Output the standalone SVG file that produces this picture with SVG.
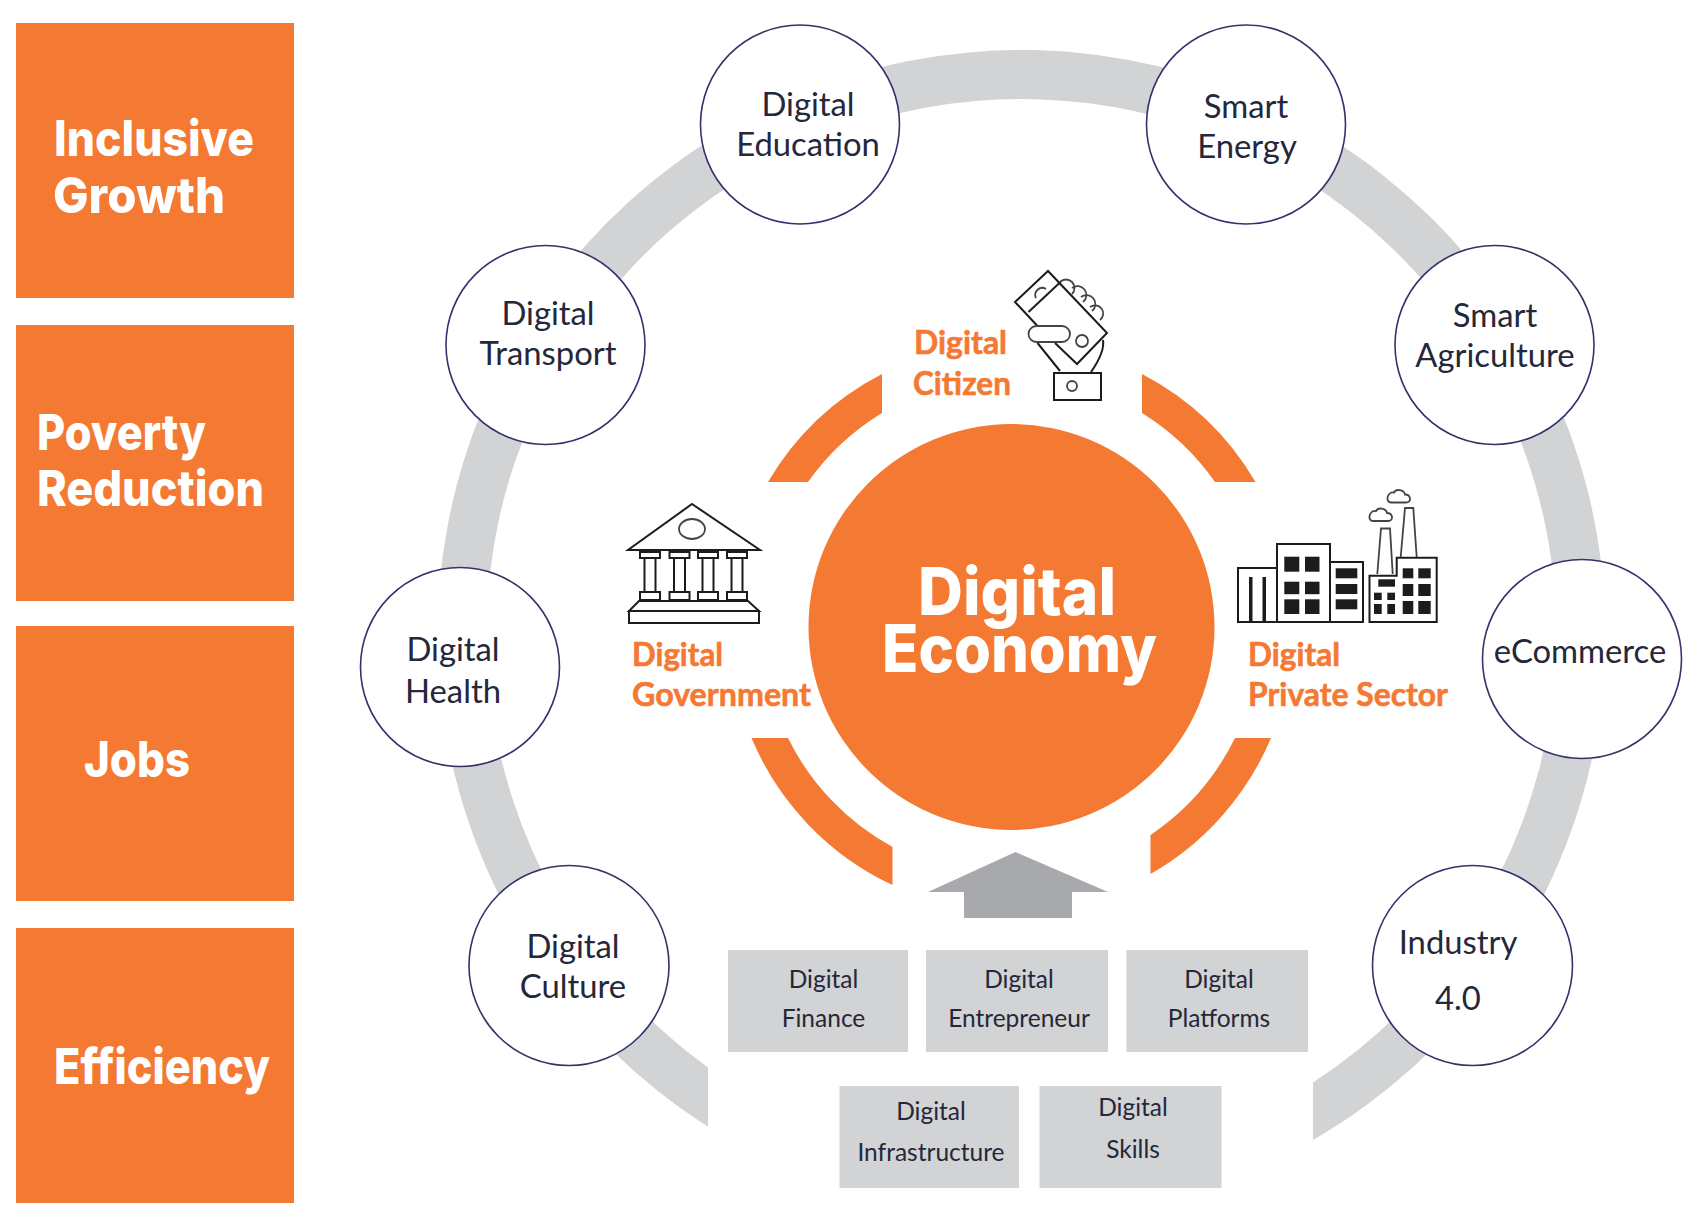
<svg xmlns="http://www.w3.org/2000/svg" width="1700" height="1214" viewBox="0 0 1700 1214">
<style>
.o{fill:#f47932}
.n{fill:#fff;stroke:#33326a;stroke-width:1.6}
.b{fill:#d1d3d4}
text{font-family:"Lato","Liberation Sans",sans-serif;text-anchor:middle}
.t{font-size:32.800px;fill:#25273a}
.s{font-size:24.500px;fill:#25273a}
.h{font-family:"Inter","Lato",sans-serif;font-size:50px;font-weight:800;fill:#fff;text-anchor:start}
.l{font-size:33px;font-weight:700;fill:#f47932;stroke:#f47932;stroke-width:.6;text-anchor:start}
.c{font-family:"Inter","Lato",sans-serif;font-size:66px;font-weight:800;fill:#fff}
.i{fill:none;stroke:#1c1c1c;stroke-width:2}
.k{fill:none;stroke:#444;stroke-width:1.8}
.w{fill:#1c1c1c}
</style>
<rect width="1700" height="1214" fill="#fff"/>
<g id="connectors">
<path id="outer-ring" fill="#d1d3d4" d="M708 1126.7A584 584 0 1 1 1313 1140L1313 1082.6A535 535 0 1 0 708 1067.5Z"/>
<path id="up-arrow" fill="#a7a9ac" d="M1015.5 852L1108 892L1072 892L1072 918L964 918L964 892L928 892Z"/>
</g>
<g id="outcome-inclusive-growth"><rect class="o" x="16" y="23" width="278" height="275"/><text class="h" x="54" y="156" textLength="200" lengthAdjust="spacingAndGlyphs">Inclusive</text><text class="h" x="53" y="213" textLength="172" lengthAdjust="spacingAndGlyphs">Growth</text></g>
<g id="outcome-poverty-reduction"><rect class="o" x="16" y="325" width="278" height="276"/><text class="h" x="37" y="450" textLength="169" lengthAdjust="spacingAndGlyphs">Poverty</text><text class="h" x="37" y="506" textLength="227" lengthAdjust="spacingAndGlyphs">Reduction</text></g>
<g id="outcome-jobs"><rect class="o" x="16" y="626" width="278" height="275"/><text class="h" x="84" y="777" textLength="106" lengthAdjust="spacingAndGlyphs">Jobs</text></g>
<g id="outcome-efficiency"><rect class="o" x="16" y="928" width="278" height="275"/><text class="h" x="54" y="1084" textLength="216" lengthAdjust="spacingAndGlyphs">Efficiency</text></g>
<g id="inner-arcs">
<path class="o" d="M768 482A283 283 0 0 1 882 374L882 413A250 250 0 0 0 808 482Z"/>
<path class="o" d="M1255.5 482A283 283 0 0 0 1142 374L1142 413A250 250 0 0 1 1215 482Z"/>
<path class="o" d="M751.5 738A283 283 0 0 0 892.5 885L892.5 847A250 250 0 0 1 788 738Z"/>
<path class="o" d="M1271 738A283 283 0 0 1 1150.5 874L1150.5 835A250 250 0 0 0 1235 738Z"/>
</g>
<g id="digital-economy"><circle class="o" cx="1011.500" cy="627" r="203"/><text class="c" x="1017" y="615" textLength="198" lengthAdjust="spacingAndGlyphs">Digital</text><text class="c" x="1019.500" y="672" textLength="275" lengthAdjust="spacingAndGlyphs">Economy</text></g>
<g id="digital-education"><circle class="n" cx="800" cy="124.500" r="99.500"/><text class="t" x="808" y="116">Digital</text><text class="t" x="808" y="156">Education</text></g>
<g id="smart-energy"><circle class="n" cx="1246" cy="124.500" r="99.500"/><text class="t" x="1246" y="118">Smart</text><text class="t" x="1247" y="158">Energy</text></g>
<g id="smart-agriculture"><circle class="n" cx="1494.500" cy="345" r="99.500"/><text class="t" x="1495" y="327">Smart</text><text class="t" x="1495" y="367">Agriculture</text></g>
<g id="digital-transport"><circle class="n" cx="545.500" cy="345" r="99.500"/><text class="t" x="548" y="325">Digital</text><text class="t" x="548" y="365">Transport</text></g>
<g id="digital-health"><circle class="n" cx="460" cy="667" r="99.500"/><text class="t" x="453" y="661">Digital</text><text class="t" x="453" y="703">Health</text></g>
<g id="ecommerce"><circle class="n" cx="1582" cy="659" r="99.500"/><text class="t" x="1580" y="663">eCommerce</text></g>
<g id="digital-culture"><circle class="n" cx="569" cy="965.500" r="100"/><text class="t" x="573" y="958">Digital</text><text class="t" x="573" y="998">Culture</text></g>
<g id="industry-4"><circle class="n" cx="1472.500" cy="965.500" r="100"/><text class="t" x="1458" y="954">Industry</text><text class="t" x="1458" y="1010">4.0</text></g>
<g id="digital-finance"><rect class="b" x="728" y="950" width="180" height="102"/><text class="s" x="823.500" y="988">Digital</text><text class="s" x="823.500" y="1027">Finance</text></g>
<g id="digital-entrepreneur"><rect class="b" x="926" y="950" width="182" height="102"/><text class="s" x="1019" y="988">Digital</text><text class="s" x="1019" y="1027">Entrepreneur</text></g>
<g id="digital-platforms"><rect class="b" x="1126.500" y="950" width="181.500" height="102"/><text class="s" x="1219" y="988">Digital</text><text class="s" x="1219" y="1027">Platforms</text></g>
<g id="digital-infrastructure"><rect class="b" x="839.500" y="1086" width="179.500" height="102"/><text class="s" x="931" y="1120">Digital</text><text class="s" x="931" y="1161">Infrastructure</text></g>
<g id="digital-skills"><rect class="b" x="1039.500" y="1086" width="182" height="102"/><text class="s" x="1133" y="1116">Digital</text><text class="s" x="1133" y="1158">Skills</text></g>
<g id="digital-citizen">
<text class="l" x="914" y="354" textLength="93" lengthAdjust="spacingAndGlyphs">Digital</text><text class="l" x="913" y="395" textLength="98" lengthAdjust="spacingAndGlyphs">Citizen</text>
<g class="i">
<path d="M1037.500 326L1015 302L1048 271L1107 333L1077 364L1055 343"/>
<path d="M1028.500 312L1060.500 282"/>
<path d="M1036 298A7 7 0 0 1 1046 289" class="k"/>
<path class="k" d="M1060 282A8 8 0 0 1 1072 294M1072 288A8 8 0 0 1 1083 302M1081 297A8 8 0 0 1 1092 311M1090 307A8 8 0 0 1 1100 320"/>
<rect class="k" x="1028.500" y="326" width="41.500" height="16" rx="8"/>
<circle class="k" cx="1082" cy="341" r="6"/>
<path d="M1037.500 343L1060 371M1091 372Q1105 352 1103 340"/>
<rect x="1054" y="373" width="47" height="27"/>
<circle class="k" cx="1072" cy="386" r="5"/>
</g>
</g>
<g id="digital-government">
<g class="i">
<path d="M692 504L760 550L628 550Z"/>
<ellipse class="k" cx="692" cy="529" rx="13" ry="10"/>
<path d="M640 552h20v6h-20zM644.500 558h11v34h-11zM640 592h20v8h-20z"/>
<path d="M669.500 552h20v6h-20zM674 558h11v34h-11zM669.500 592h20v8h-20z"/>
<path d="M698 552h20v6h-20zM702.500 558h11v34h-11zM698 592h20v8h-20z"/>
<path d="M727 552h20v6h-20zM731.500 558h11v34h-11zM727 592h20v8h-20z"/>
<path d="M639 601L748 601L759 611L629 611Z"/>
<rect x="629" y="611" width="130" height="12"/>
</g>
<text class="l" x="632" y="666" textLength="91" lengthAdjust="spacingAndGlyphs">Digital</text><text class="l" x="632" y="706" textLength="179" lengthAdjust="spacingAndGlyphs">Government</text>
</g>
<g id="digital-private-sector">
<g class="i">
<rect x="1238" y="568" width="39" height="54"/><rect x="1277" y="544" width="53" height="78"/><rect x="1330" y="562" width="33" height="60"/>
<path d="M1369.500 622V575.700H1396.700V557.700H1436.700V622Z"/>
</g>
<g class="w">
<rect x="1249" y="577" width="3.500" height="45"/><rect x="1262.500" y="577" width="3.500" height="45"/>
<rect x="1284.300" y="556.700" width="15" height="15"/><rect x="1305" y="556.700" width="14.500" height="15"/>
<rect x="1284.300" y="581.700" width="15" height="12.500"/><rect x="1305" y="581.700" width="14.500" height="12.500"/>
<rect x="1284.300" y="599.300" width="15" height="14.700"/><rect x="1305" y="599.300" width="14.500" height="14.700"/>
<rect x="1335.700" y="568.300" width="21.600" height="10"/><rect x="1335.700" y="584" width="21.600" height="10"/><rect x="1335.700" y="599.300" width="21.600" height="10"/>
<rect x="1402.700" y="568.300" width="10.600" height="10"/><rect x="1418.300" y="568.300" width="12.400" height="10"/>
<rect x="1402.700" y="584" width="10.600" height="12"/><rect x="1418.300" y="584" width="12.400" height="12"/>
<rect x="1402.700" y="601" width="10.600" height="13"/><rect x="1418.300" y="601" width="12.400" height="13"/>
<rect x="1378.300" y="579.300" width="16.700" height="7.400"/>
<rect x="1374" y="592.700" width="7.700" height="7.300"/><rect x="1387.300" y="592.700" width="7.700" height="7.300"/>
<rect x="1374" y="604" width="7.700" height="10"/><rect x="1387.300" y="604" width="7.700" height="10"/>
</g>
<g class="k">
<path d="M1377.300 574L1381 528.500H1390L1392.700 574"/>
<path d="M1400.700 557L1405 508H1413.300L1416.700 557"/>
<path d="M1373 521H1388C1394 521 1393 513 1387 513C1386 508 1378 507 1376 511C1369 510 1367 521 1373 521Z"/>
<path d="M1391 502.500H1406C1412 502.500 1411 494.500 1405 494.500C1404 489.500 1396 488.500 1394 492.500C1387 491.500 1385 502.500 1391 502.500Z"/>
</g>
<text class="l" x="1248" y="666" textLength="92" lengthAdjust="spacingAndGlyphs">Digital</text><text class="l" x="1248" y="706" textLength="200" lengthAdjust="spacingAndGlyphs">Private Sector</text>
</g>
</svg>
